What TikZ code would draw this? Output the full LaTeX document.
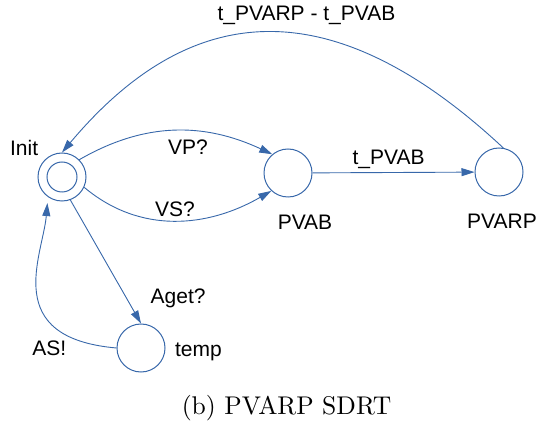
\documentclass[tikz,border=0pt]{standalone}
\usepackage{fontspec}
\newfontfamily\lblfont{Liberation Sans}
\newfontfamily\capfont{lmroman10-regular}[Extension=.otf]
\usetikzlibrary{arrows.meta,positioning}
\definecolor{smBlue}{RGB}{56,104,170}

\begin{document}
\begin{tikzpicture}[x=1pt,y=-1pt,
  every node/.style={font=\lblfont\fontsize{21}{25}\selectfont},
  >={Triangle[length=13pt,width=8pt]},
  state/.style={circle,draw=smBlue,line width=1pt,minimum size=48pt,inner sep=0pt},
  initstate/.style={state,path picture={\draw[smBlue,line width=1pt]
      (path picture bounding box.center) circle (15pt);}},
  trans/.style={->,draw=smBlue,line width=0.9pt}
]
\useasboundingbox (0,0) rectangle (538,427);

% states
\node[initstate,label={[xshift=-3pt]above left:Init}] (init) at (62,177) {};
\node[state,label={[label distance=14pt,xshift=17pt]below:PVAB}] (pvab) at (288,173) {};
\node[state,label={[label distance=14pt,xshift=3pt]below:PVARP}] (pvarp) at (499,172) {};
\node[state,label={[label distance=6pt,yshift=-4pt]right:temp}] (temp) at (141,348) {};

% transitions
\draw[trans] (init.45) to[out=30,in=155]
  node[pos=.57,below=5pt] {VP?} (pvab.130);
\draw[trans] (init.-25) to[out=-40,in=210]
  node[above] {VS?} (pvab.227);
\draw[trans] (pvab) -- node[pos=.47,above] {t\_PVAB} (pvarp);
\draw[trans] (pvarp.80) to[out=137,in=50,out looseness=1.41,in looseness=1.11]
  node[pos=.4,above=7pt] {t\_PVARP - t\_PVAB} (init.north);
\draw[trans] (init.290) -- node[pos=.8,right=20pt] {Aget?} (temp.north);
\draw[trans,shorten >=6pt] (temp.west) to[out=175,in=265,out looseness=1.8,in looseness=0.9]
  node[pos=.17,below left] {AS!} (init.235);

\node[font=\capfont\fontsize{25.6}{30}\selectfont] (caption) at (286.5,408) {(b) PVARP SDRT};
\end{tikzpicture}
\end{document}
